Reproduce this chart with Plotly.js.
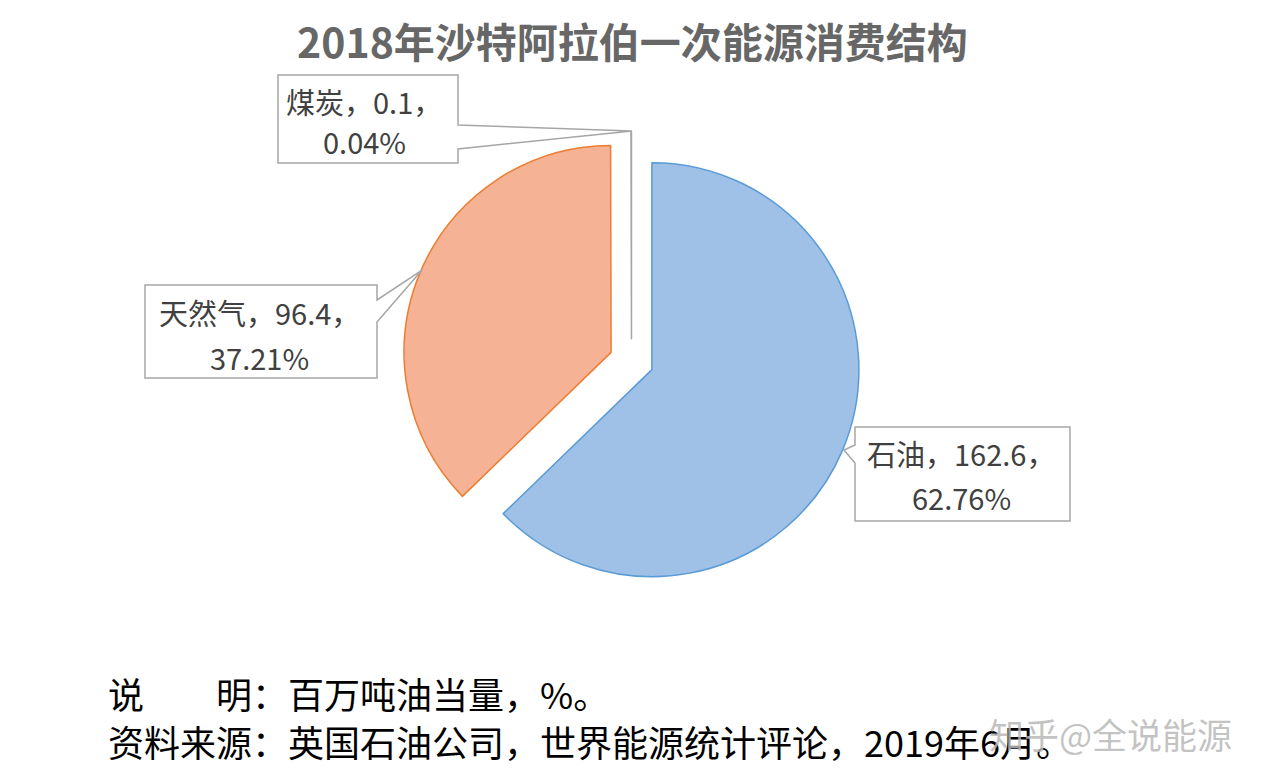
<html>
<head>
<meta charset="utf-8">
<script src="https://cdn.plot.ly/plotly-3.0.1.min.js"></script>
<style>
  body { margin: 0; background: #fff; }
</style>
</head>
<body>
<div id="chart" style="width:1265px;height:783px;"></div>
<script>
// 2018年沙特阿拉伯一次能源消费结构 (百万吨油当量)
const labels = ['石油', '天然气', '煤炭'];
const values = [162.6, 96.4, 0.1];
const fillColors = ['#9fc0e7', '#f5b294', '#c8c8c8'];
const lineColors = ['#5b9bd5', '#ed7d31', '#a5a5a5'];

const titleText = '2018年沙特阿拉伯一次能源消费结构';
const noteLines = ['说　　明：百万吨油当量，%。', '资料来源：英国石油公司，世界能源统计评论，2019年6月。'];
const watermark = '知乎@全说能源';

const W = 1265, H = 783;
const fx = x => x / W;
const fy = y => 1 - y / H;

let total = values.reduce((a, b) => a + b, 0);
let pcts = values.map(v => (v / total * 100).toFixed(2));

// callout boxes, pixel geometry: box + wedge tip
// [left, top, right, bottom, side, wedgeStart, wedgeEnd, tipX, tipY, textX, line1Y, line2Y]
let callouts = [
  [855, 427, 1070, 521, 'left', 445, 463, 844, 450, 961, 453, 497],   // 石油
  [145, 285, 377, 378, 'right', 300, 322, 422, 270, 259, 312, 357],   // 天然气
  [278, 75, 458, 163, 'right', 125, 149, 632, 131, 364, 101, 141]     // 煤炭
];

function calloutPath(c) {
  let [l, t, r, b, side, w1, w2, tx, ty] = c;
  let pts;
  if (side == 'right') {
    pts = [[l, t], [r, t], [r, w1], [tx, ty], [r, w2], [r, b], [l, b]];
  } else {
    pts = [[l, t], [r, t], [r, b], [l, b], [l, w2], [tx, ty], [l, w1]];
  }
  return 'M' + pts.map(p => fx(p[0]).toFixed(5) + ',' + fy(p[1]).toFixed(5)).join(' L') + ' Z';
}

let shapes = callouts.map(c => ({
  type: 'path',
  xref: 'paper', yref: 'paper',
  path: calloutPath(c),
  fillcolor: '#ffffff',
  line: { color: '#a6a6a6', width: 1.5 },
  layer: 'above'
}));

let labelFont = { family: '"Noto Sans CJK SC", "Noto Sans", sans-serif', size: 29, color: '#404040' };
let annotations = [];
callouts.forEach((c, i) => {
  annotations.push({
    xref: 'paper', yref: 'paper', x: fx(c[9]), y: fy(c[10]),
    xanchor: 'center', yanchor: 'middle', showarrow: false,
    text: labels[i] + '，' + values[i] + '，', font: labelFont
  });
  annotations.push({
    xref: 'paper', yref: 'paper', x: fx(c[9]), y: fy(c[11]),
    xanchor: 'center', yanchor: 'middle', showarrow: false,
    text: pcts[i] + '%', font: labelFont
  });
});

let noteFont = { family: '"Noto Sans CJK SC", sans-serif', size: 36, color: '#000000' };
annotations.push({
  xref: 'paper', yref: 'paper', x: fx(106), y: fy(693),
  xanchor: 'left', yanchor: 'middle', showarrow: false,
  text: noteLines[0], font: noteFont
});
annotations.push({
  xref: 'paper', yref: 'paper', x: fx(106), y: fy(741),
  xanchor: 'left', yanchor: 'middle', showarrow: false,
  text: noteLines[1], font: noteFont
});
// site watermark, sits over the end of the source line as in the original image
annotations.push({
  xref: 'paper', yref: 'paper', x: fx(1234), y: fy(733),
  xanchor: 'right', yanchor: 'middle', showarrow: false,
  text: watermark,
  font: { family: '"Noto Sans CJK SC", sans-serif', size: 35, color: 'rgba(185,185,185,0.85)' }
});

// pie: unexploded centre about (631,361), radius 207, pull ~22px
let pull = 0.107;
let half = 207 * (1 + pull);
let data = [{
  type: 'pie',
  labels: labels,
  values: values,
  sort: false,
  direction: 'clockwise',
  rotation: 0,
  pull: values.map(() => pull),
  textinfo: 'none',
  hoverinfo: 'label+value+percent',
  marker: {
    colors: fillColors,
    line: { color: lineColors, width: 1.5 }
  },
  domain: {
    x: [fx(631.5 - half), fx(631.5 + half)],
    y: [fy(361 + half), fy(361 - half)]
  }
}];

let layout = {
  width: W,
  height: H,
  margin: { l: 0, r: 0, t: 0, b: 0 },
  paper_bgcolor: '#ffffff',
  showlegend: false,
  title: {
    text: titleText,
    x: 0.5, xanchor: 'center',
    y: fy(44), yanchor: 'middle',
    font: { family: '"Noto Sans CJK SC", sans-serif', size: 41, color: '#676767', weight: 'bold' }
  },
  shapes: shapes,
  annotations: annotations
};

Plotly.newPlot('chart', data, layout, { staticPlot: true });
</script>
</body>
</html>
